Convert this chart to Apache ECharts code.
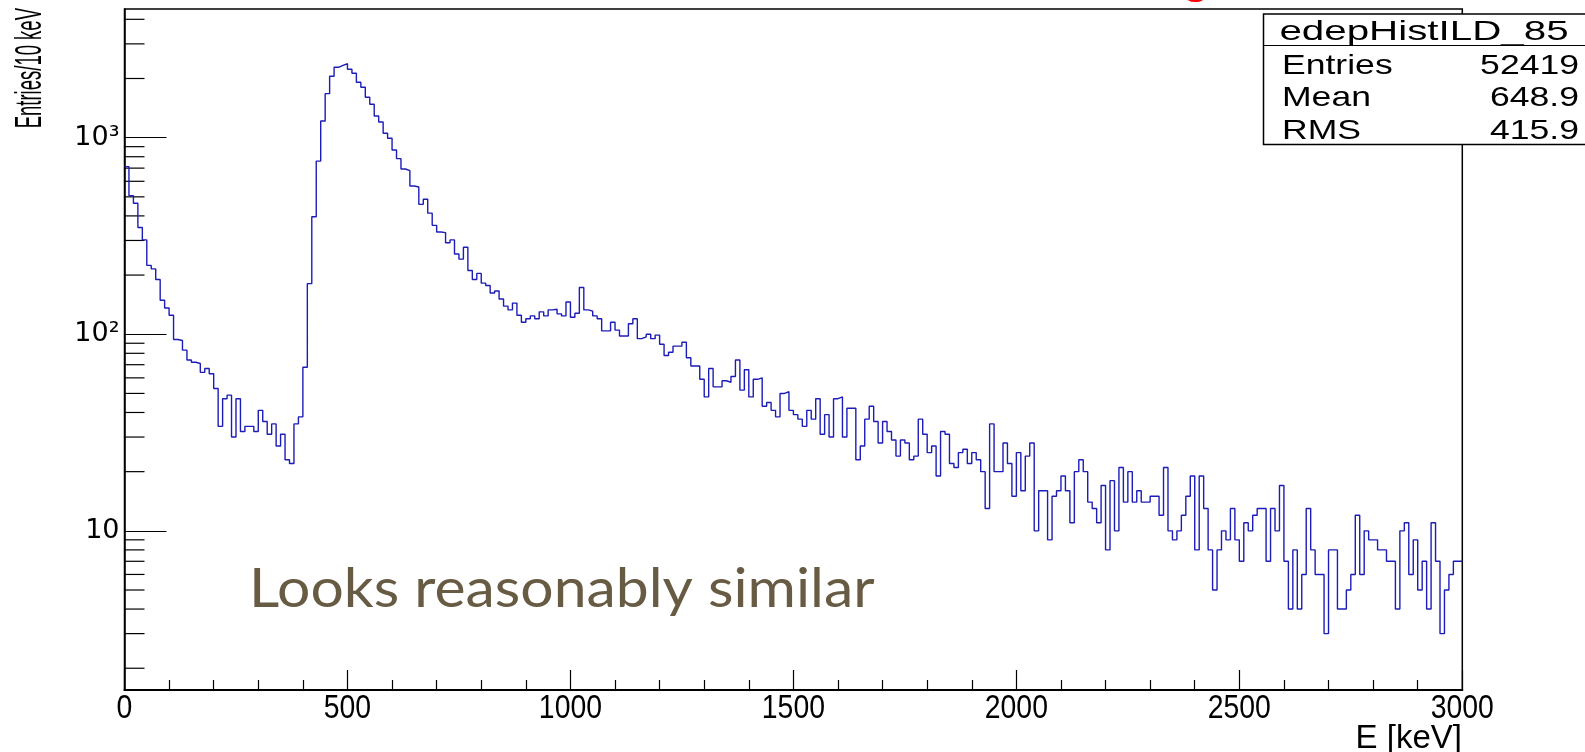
<!DOCTYPE html>
<html>
<head>
<meta charset="utf-8">
<script src="https://cdn.jsdelivr.net/npm/echarts@6/dist/echarts.min.js"></script>
<style>
html, body { margin: 0; padding: 0; background: #fff; }
#chart { width: 1585px; height: 752px; }
</style>
</head>
<body>
<div id="chart"></div>
<script>
// Deposited energy spectrum, 10 keV bins from 0 to 3000 keV
const binWidth = 10;
const counts = [
  712, 507, 464, 349, 302, 224, 215, 190, 149, 136,
  125, 94, 93, 83, 74, 72, 71, 64, 67, 63,
  53, 34, 47, 49, 30, 47, 32, 34, 34, 32,
  41, 36, 31, 35, 27, 31, 23, 22, 35, 38,
  68, 181, 396, 760, 1216, 1675, 2053, 2280, 2334, 2377,
  2228, 2126, 1913, 1805, 1605, 1479, 1289, 1202, 1053, 993,
  866, 782, 693, 680, 568, 561, 458, 486, 413, 358,
  331, 329, 292, 302, 256, 241, 277, 211, 190, 204,
  182, 177, 162, 166, 151, 139, 133, 144, 125, 115,
  120, 124, 120, 130, 124, 133, 134, 127, 124, 146,
  122, 128, 173, 133, 131, 124, 120, 104, 104, 115,
  105, 98, 98, 113, 120, 95, 97, 100, 95, 99,
  89, 78, 81, 87, 87, 91, 76, 69, 69, 59,
  48, 67, 54, 54, 58, 57, 61, 74, 52, 66,
  48, 59, 60, 43, 45, 41, 38, 50, 51, 41,
  39, 37, 34, 41, 37, 47, 31, 39, 30, 47,
  48, 30, 42, 42, 23, 27, 37, 43, 36, 28,
  36, 32, 29, 24, 29, 28, 23, 24, 37, 31,
  25, 27, 19, 32, 31, 22, 21, 25, 26, 22,
  25, 23, 20, 13, 35, 20, 20, 28, 22, 15,
  25, 16, 24, 28, 10, 16, 16, 9, 15, 16,
  19, 16, 11, 20, 23, 20, 14, 13, 11, 17,
  8, 18, 10, 21, 14, 20, 14, 16, 14, 14,
  15, 15, 12, 21, 10, 9, 10, 12, 15, 19,
  8, 19, 13, 8, 5, 8, 10, 9, 13, 9,
  7, 11, 10, 12, 13, 13, 7, 13, 10, 17,
  7, 4, 8, 4, 6, 13, 8, 6, 6, 3,
  8, 8, 4, 4, 5, 6, 12, 6, 10, 9,
  9, 8, 8, 7, 7, 4, 10, 11, 6, 9,
  5, 7, 4, 11, 7, 3, 5, 6, 7, 7
];

// Axis ranges and ticks
const xRange = [0, 3000];
const xMajorStep = 500;
const xTickValues = [0, 500, 1000, 1500, 2000, 2500, 3000];
const xTickLabels = ['0', '500', '1000', '1500', '2000', '2500', '3000'];
const yRange = [1.55, 4514];
const yMajorLabels = { 10: '10', 100: '10\u00B2', 1000: '10\u00B3' };
const yMinorTicks = [
  2, 3, 4, 5, 6, 7, 8, 9,
  20, 30, 40, 50, 60, 70, 80, 90,
  200, 300, 400, 500, 600, 700, 800, 900,
  2000, 3000, 4000
];

// Titles and statistics box
const xTitle = 'E [keV]';
const yTitle = 'Entries/10 keV';
const statsTitle = 'edepHistILD_85';
const statsNames = ['Entries', 'Mean', 'RMS'];
const statsValues = ['52419', '648.9', '415.9'];
const note = 'Looks reasonably similar';
const slideTitleTail = 'g';

// Histogram outline: one point per lower bin edge plus the closing upper edge
const histPoints = counts.map((c, i) => [i * binWidth, c]);
histPoints.push([counts.length * binWidth, counts[counts.length - 1]]);

const helv = '"Liberation Sans", Arial, Helvetica, sans-serif';
const chart = echarts.init(document.getElementById('chart'), null, { renderer: 'canvas' });

const statsRows = statsNames.map((name, i) => [
  {
    type: 'text', z: 101,
    x: 1282, y: 66 + i * 32.5, scaleX: 1.27,
    style: { text: name, font: '28px ' + helv, fill: '#000', align: 'left', verticalAlign: 'middle' }
  },
  {
    type: 'text', z: 101,
    x: 1579, y: 66 + i * 32.5, scaleX: 1.27,
    style: { text: statsValues[i], font: '28px ' + helv, fill: '#000', align: 'right', verticalAlign: 'middle' }
  }
]).flat();

chart.setOption({
  animation: false,
  backgroundColor: '#fff',
  grid: {
    left: 124.5, right: 122.7, top: 9, bottom: 62,
    show: true, borderColor: '#000', borderWidth: 1.5, backgroundColor: 'transparent'
  },
  xAxis: {
    type: 'value',
    min: xRange[0], max: xRange[1], interval: xMajorStep,
    axisLine: { show: true, lineStyle: { color: '#000', width: 2 } },
    axisTick: { show: true, inside: true, length: 20, lineStyle: { color: '#000', width: 1.2 } },
    minorTick: { show: true, splitNumber: 5, length: 10, lineStyle: { color: '#000', width: 1.2 } },
    splitLine: { show: false },
    axisLabel: { show: false }
  },
  yAxis: {
    type: 'log', logBase: 10,
    min: yRange[0], max: yRange[1],
    axisLine: { show: true, lineStyle: { color: '#000', width: 1.5 } },
    axisTick: { show: true, inside: true, length: 42, lineStyle: { color: '#000', width: 1.2 } },
    minorTick: { show: false },
    splitLine: { show: false },
    axisLabel: {
      color: '#000', fontSize: 27, margin: 5,
      fontFamily: '"DejaVu Sans", sans-serif',
      showMinLabel: false, showMaxLabel: false,
      formatter: v => yMajorLabels[Math.round(v)] || ''
    }
  },
  series: [
    {
      type: 'line',
      data: histPoints,
      step: 'end',
      symbol: 'none',
      lineStyle: { color: '#1c1cb8', width: 1.4 },
      silent: true
    },
    {
      // minor ticks of the logarithmic axis at 2..9 of each decade
      type: 'custom',
      data: yMinorTicks.map(v => [xRange[0], v]),
      silent: true,
      clip: true,
      renderItem: (params, api) => {
        const p = api.coord([api.value(0), api.value(1)]);
        return {
          type: 'line',
          shape: { x1: p[0], y1: p[1], x2: p[0] + 20, y2: p[1] },
          style: { stroke: '#000', lineWidth: 1.2 }
        };
      }
    },
    {
      // narrow energy labels under the major ticks of the x axis
      type: 'custom',
      data: xTickValues.map((v, i) => [v, yRange[0], i]),
      silent: true,
      clip: false,
      renderItem: (params, api) => {
        const p = api.coord([api.value(0), api.value(1)]);
        return {
          type: 'text',
          x: p[0], y: p[1] + 2, scaleX: 0.86,
          style: {
            text: xTickLabels[api.value(2)],
            font: '33px ' + helv, fill: '#000',
            align: 'center', verticalAlign: 'top'
          }
        };
      }
    }
  ],
  graphic: [
    {
      type: 'text', x: 12, y: 8, rotation: Math.PI / 2, scaleX: 0.5,
      style: { text: yTitle, font: '37px ' + helv, fill: '#000', align: 'right', verticalAlign: 'top' }
    },
    {
      type: 'text', x: 1462, y: 722, scaleX: 1.0,
      style: { text: xTitle, font: '33px ' + helv, fill: '#000', align: 'right', verticalAlign: 'top' }
    },
    {
      type: 'text', x: 249, y: 589, scaleX: 1.07,
      style: { text: note, font: '55px Lato, "Open Sans", sans-serif', fill: '#675b44', align: 'left', verticalAlign: 'middle' }
    },
    {
      type: 'text', x: 1196, y: 3,
      style: { text: slideTitleTail, font: 'bold 44px ' + helv, fill: '#ff0000', align: 'center', verticalAlign: 'bottom' }
    },
    {
      type: 'rect', z: 100,
      shape: { x: 1263.5, y: 14, width: 330, height: 130.5 },
      style: { fill: '#fff', stroke: '#000', lineWidth: 1.5 }
    },
    {
      type: 'line', z: 101,
      shape: { x1: 1263.5, y1: 45.5, x2: 1585, y2: 45.5 },
      style: { stroke: '#000', lineWidth: 1.2 }
    },
    {
      type: 'text', z: 101, x: 1424, y: 32.5, scaleX: 1.44,
      style: { text: statsTitle, font: '28px ' + helv, fill: '#000', align: 'center', verticalAlign: 'middle' }
    },
    ...statsRows
  ]
});
</script>
</body>
</html>
